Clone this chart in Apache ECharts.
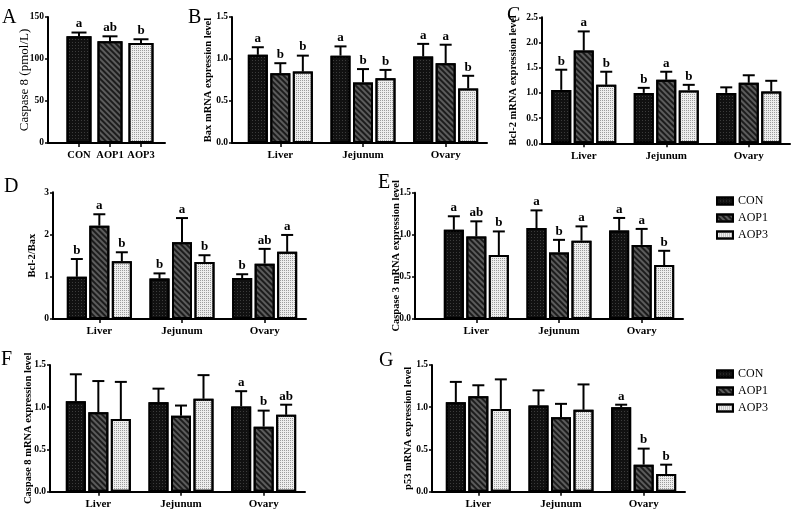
<!DOCTYPE html>
<html lang="en">
<head>
<meta charset="UTF-8">
<title>Apoptosis markers</title>
<script src="https://cdn.jsdelivr.net/npm/echarts@6/dist/echarts.min.js"></script>
<style>
    html, body { margin: 0; padding: 0; background: #fff; }
    #chart { width: 795px; height: 513px; }
</style>
</head>
<body>
<div id="chart"></div>
<script>
    var organs = ['Liver', 'Jejunum', 'Ovary'];
    var groups = ['CON', 'AOP1', 'AOP3'];

    // A - serum caspase 8
    var casp8SerumMean = [127, 121, 119];
    var casp8SerumSd = [4.5, 6, 4.5];
    var casp8SerumSig = ['a', 'ab', 'b'];

    // B..G - rows are CON, AOP1, AOP3; columns are Liver, Jejunum, Ovary
    var baxMean = [[1.05, 1.04, 1.03], [0.83, 0.72, 0.95], [0.85, 0.77, 0.65]];
    var baxSd = [[0.09, 0.11, 0.15], [0.12, 0.16, 0.22], [0.19, 0.10, 0.15]];
    var baxSig = [['a', 'a', 'a'], ['b', 'b', 'a'], ['b', 'b', 'b']];

    var bcl2Mean = [[1.06, 1.00, 1.00], [1.84, 1.26, 1.20], [1.16, 1.05, 1.03]];
    var bcl2Sd = [[0.40, 0.10, 0.11], [0.38, 0.16, 0.15], [0.26, 0.11, 0.21]];
    var bcl2Sig = [['b', 'b', ''], ['a', 'a', ''], ['b', 'b', '']];

    var ratioMean = [[1.00, 0.96, 0.97], [2.21, 1.82, 1.31], [1.37, 1.35, 1.59]];
    var ratioSd = [[0.42, 0.12, 0.09], [0.27, 0.57, 0.35], [0.21, 0.16, 0.40]];
    var ratioSig = [['b', 'b', 'b'], ['a', 'a', 'ab'], ['b', 'b', 'a']];

    var casp3Mean = [[1.06, 1.08, 1.05], [0.98, 0.79, 0.88], [0.76, 0.93, 0.64]];
    var casp3Sd = [[0.16, 0.21, 0.15], [0.18, 0.15, 0.19], [0.28, 0.17, 0.17]];
    var casp3Sig = [['a', 'a', 'a'], ['ab', 'b', 'a'], ['b', 'a', 'b']];

    var casp8Mean = [[1.07, 1.06, 1.01], [0.94, 0.90, 0.77], [0.86, 1.10, 0.91]];
    var casp8Sd = [[0.32, 0.16, 0.18], [0.37, 0.12, 0.19], [0.44, 0.28, 0.12]];
    var casp8Sig = [['', '', 'a'], ['', '', 'b'], ['', '', 'ab']];

    var p53Mean = [[1.06, 1.02, 1.00], [1.13, 0.88, 0.32], [0.98, 0.97, 0.21]];
    var p53Sd = [[0.24, 0.18, 0.03], [0.13, 0.16, 0.19], [0.35, 0.30, 0.11]];
    var p53Sig = [['', '', 'a'], ['', '', 'b'], ['', '', 'b']];

    var SERIF = 'Liberation Serif';
    var BAR_W = 20, BAR_GAP = 2.5;

    var fills = [
        {color: '#111', decal: {symbol: 'rect', symbolSize: 1, color: '#3c3c3c', dashArrayX: [1, 2], dashArrayY: [1, 2]}},
        {color: '#5c5c5c', decal: {symbol: 'rect', symbolSize: 1, color: '#1c1c1c', dashArrayX: [1, 0], dashArrayY: [1.5, 1.5], rotation: Math.PI / 4}},
        {color: '#ededed', decal: {symbol: 'rect', symbolSize: 1, color: '#9c9c9c', dashArrayX: [1, 1], dashArrayY: [1, 1]}}
    ];

    // layout of each panel: y axis x, start/end of the bar area, top/bottom of the value range
    var panels = [
        {tag: 'A', tagX: 2, tagY: 8, name: 'Caspase 8 (pmol/L)', nameBold: false, nameSize: 13, nameGap: 17,
            max: 150, step: 50, axisX: 48, dataX: 63.5, right: 156.5, frameRight: 165, top: 17, bottom: 143},
        {tag: 'B', tagX: 188, tagY: 8, name: 'Bax mRNA expression level', mean: baxMean, sd: baxSd, sig: baxSig,
            max: 1.5, step: 0.5, axisX: 232, dataX: 239, right: 487, top: 17, bottom: 143, nameGap: 18},
        {tag: 'C', tagX: 507, tagY: 6, name: 'Bcl-2 mRNA expression level', mean: bcl2Mean, sd: bcl2Sd, sig: bcl2Sig,
            max: 2.5, step: 0.5, axisX: 542, dataX: 542.5, right: 790, top: 17.3, bottom: 143.3, nameGap: 23},
        {tag: 'D', tagX: 4, tagY: 177, name: 'Bcl-2/Bax', mean: ratioMean, sd: ratioSd, sig: ratioSig,
            max: 3, step: 1, axisX: 53, dataX: 58, right: 306, top: 192.3, bottom: 319, nameGap: 15},
        {tag: 'E', tagX: 378, tagY: 173, name: 'Caspase 3 mRNA expression level', mean: casp3Mean, sd: casp3Sd, sig: casp3Sig,
            max: 1.5, step: 0.5, axisX: 415, dataX: 435, right: 683, top: 192.7, bottom: 319, nameGap: 13},
        {tag: 'F', tagX: 1, tagY: 350, name: 'Caspase 8 mRNA expression level', mean: casp8Mean, sd: casp8Sd, sig: casp8Sig,
            max: 1.5, step: 0.5, axisX: 50, dataX: 57, right: 305, top: 365, bottom: 491.7, nameGap: 16},
        {tag: 'G', tagX: 379, tagY: 351, name: 'p53 mRNA expression level', mean: p53Mean, sd: p53Sd, sig: p53Sig,
            max: 1.5, step: 0.5, axisX: 432, dataX: 437, right: 685, top: 365, bottom: 491.7, nameGap: 18}
    ];

    function errorBar(sig, shift, capW) {
        return function (params, api) {
            var i = api.value(0), m = api.value(1), s = api.value(2);
            var base = api.coord([i, m]), tip = api.coord([i, m + s]);
            var x = base[0] + shift;
            var kids = [
                {type: 'line', shape: {x1: x, y1: base[1], x2: x, y2: tip[1]}, style: {stroke: '#000', lineWidth: 2}},
                {type: 'line', shape: {x1: x - capW / 2, y1: tip[1], x2: x + capW / 2, y2: tip[1]}, style: {stroke: '#000', lineWidth: 2}}
            ];
            var t = sig[params.dataIndex];
            if (t) {
                kids.push({type: 'text', style: {text: t, x: x, y: tip[1] - 2, align: 'center', verticalAlign: 'bottom',
                    font: 'bold 13px "' + SERIF + '"', fill: '#000'}});
            }
            return {type: 'group', children: kids};
        };
    }

    var option = {
        animation: false,
        backgroundColor: '#fff',
        title: [], grid: [], xAxis: [], yAxis: [], series: [],
        legend: [190, 363].map(function (t) {
            return {
                data: groups, orient: 'vertical', left: 711, top: t, icon: 'rect',
                itemWidth: 16, itemHeight: 7, itemGap: 5, selectedMode: false,
                textStyle: {fontFamily: SERIF, fontSize: 12, color: '#000'}
            };
        })
    };

    panels.forEach(function (p, k) {
        var fg = 2 * k, dg = 2 * k + 1;
        var h = p.bottom - p.top;
        option.title.push({text: p.tag, left: p.tagX, top: p.tagY, padding: 0,
            textStyle: {fontFamily: SERIF, fontWeight: 'normal', fontSize: 20, color: '#000'}});
        option.grid.push({left: p.axisX, top: p.top, width: (p.frameRight || p.right) - p.axisX, height: h});
        option.grid.push({left: p.dataX, top: p.top, width: p.right - p.dataX, height: h});

        // frame: axis lines + value labels
        option.xAxis.push({gridIndex: fg, type: 'value', min: 0, max: 1,
            axisLine: {show: true, lineStyle: {color: '#000', width: 2}},
            axisTick: {show: false}, axisLabel: {show: false}, splitLine: {show: false}});
        option.yAxis.push({gridIndex: fg, type: 'value', min: 0, max: p.max, interval: p.step,
            name: p.name, nameLocation: 'middle', nameGap: p.nameGap, nameMoveOverlap: false,
            nameTextStyle: {fontFamily: SERIF, fontSize: p.nameSize || 10.5,
                fontWeight: p.nameBold === false ? 'normal' : 'bold', color: '#000'},
            axisLine: {show: true, lineStyle: {color: '#000', width: 2}},
            axisTick: {show: true, length: 3, lineStyle: {color: '#000', width: 1.5}},
            axisLabel: {margin: 4, fontFamily: SERIF, fontSize: 9.5, fontWeight: 'bold', color: '#000',
                formatter: function (v) { return p.step < 1 ? v.toFixed(1) : String(v); }},
            splitLine: {show: false}});

        // data area
        option.xAxis.push({gridIndex: dg, type: 'category', data: p.mean ? organs : groups,
            axisLine: {show: false},
            axisTick: {show: true, alignWithLabel: true, length: 4, lineStyle: {color: '#000', width: 1.5}},
            axisLabel: {interval: 0, margin: 7, fontFamily: SERIF, fontSize: p.mean ? 11 : 10.5, fontWeight: 'bold', color: '#000'},
            splitLine: {show: false}});
        option.yAxis.push({gridIndex: dg, type: 'value', min: 0, max: p.max, show: false});

        if (!p.mean) {
            option.series.push({
                type: 'bar', name: 'serum', xAxisIndex: dg, yAxisIndex: dg, barWidth: 25,
                data: casp8SerumMean.map(function (v, i) {
                    return {value: v, itemStyle: {color: fills[i].color, decal: fills[i].decal, borderColor: '#000', borderWidth: 2}};
                })
            });
            option.series.push({
                type: 'custom', name: 'serum-err', xAxisIndex: dg, yAxisIndex: dg, z: 5,
                renderItem: errorBar(casp8SerumSig, 0, 15),
                data: casp8SerumMean.map(function (v, i) { return [i, v, casp8SerumSd[i]]; })
            });
            return;
        }

        groups.forEach(function (g, s) {
            option.series.push({
                type: 'bar', name: g, xAxisIndex: dg, yAxisIndex: dg,
                barWidth: BAR_W, barGap: (BAR_GAP / BAR_W * 100) + '%',
                itemStyle: {color: fills[s].color, decal: fills[s].decal, borderColor: '#000', borderWidth: 2},
                data: p.mean[s]
            });
        });
        groups.forEach(function (g, s) {
            option.series.push({
                type: 'custom', name: p.tag + '-' + g + '-err', xAxisIndex: dg, yAxisIndex: dg, z: 5,
                renderItem: errorBar(p.sig[s], (s - 1) * (BAR_W + BAR_GAP), 12),
                data: p.mean[s].map(function (v, i) { return [i, v, p.sd[s][i]]; })
            });
        });
    });

    var chart = echarts.init(document.getElementById('chart'));
    chart.setOption(option);
</script>
</body>
</html>
